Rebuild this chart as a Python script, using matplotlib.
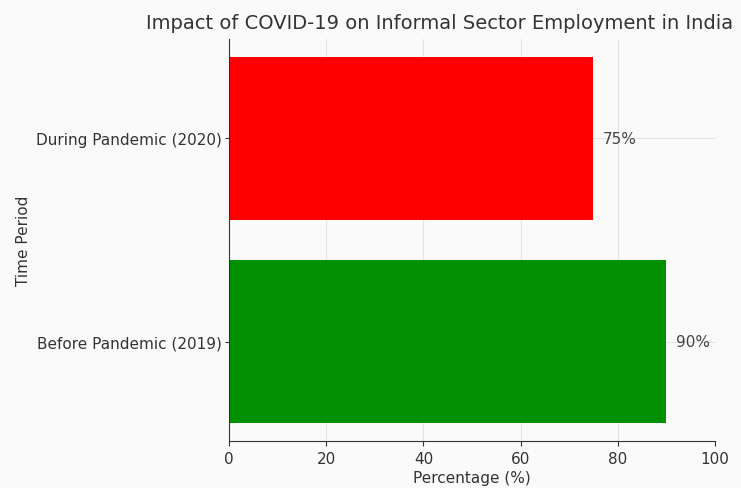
import matplotlib
matplotlib.use("Agg")
import matplotlib.pyplot as plt

plt.rcParams["font.family"] = "DejaVu Sans"

# employment share by period
periods = ["Before Pandemic (2019)", "During Pandemic (2020)"]
share = [90, 75]
bar_colors = ["#009000", "#ff0000"]

fig = plt.figure(figsize=(7.41, 4.89), dpi=100, facecolor="#fafafa")
ax = fig.add_axes([229 / 741, 47 / 489, 486 / 741, 402 / 489])
ax.set_facecolor("#fafafa")

bars = ax.barh(periods, share, color=bar_colors, height=0.8, zorder=2)
for b, v in zip(bars, share):
    ax.text(b.get_width() + 2, b.get_y() + b.get_height() / 2, f"{v}%",
            va="center", ha="left", fontsize=11, color="#444444")

ax.set_xlim(0, 100)
ax.grid(True, color="#e4e4e4", linewidth=0.8, zorder=1)
ax.set_axisbelow(True)
for s in ["top", "right"]:
    ax.spines[s].set_visible(False)
ax.spines["left"].set_color("#333333")
ax.spines["bottom"].set_color("#333333")
ax.tick_params(axis="both", labelsize=11, colors="#333333")
ax.tick_params(axis="y", length=3, pad=2)
ax.set_xlabel("Percentage (%)", fontsize=11, color="#333333", labelpad=3)
ax.set_ylabel("Time Period", fontsize=11, color="#333333", labelpad=4)

fig.text(146 / 741, 0.952, "Impact of COVID-19 on Informal Sector Employment in India",
         ha="left", va="center", fontsize=14, color="#333333")

fig.savefig("out.png", dpi=100, facecolor=fig.get_facecolor())
